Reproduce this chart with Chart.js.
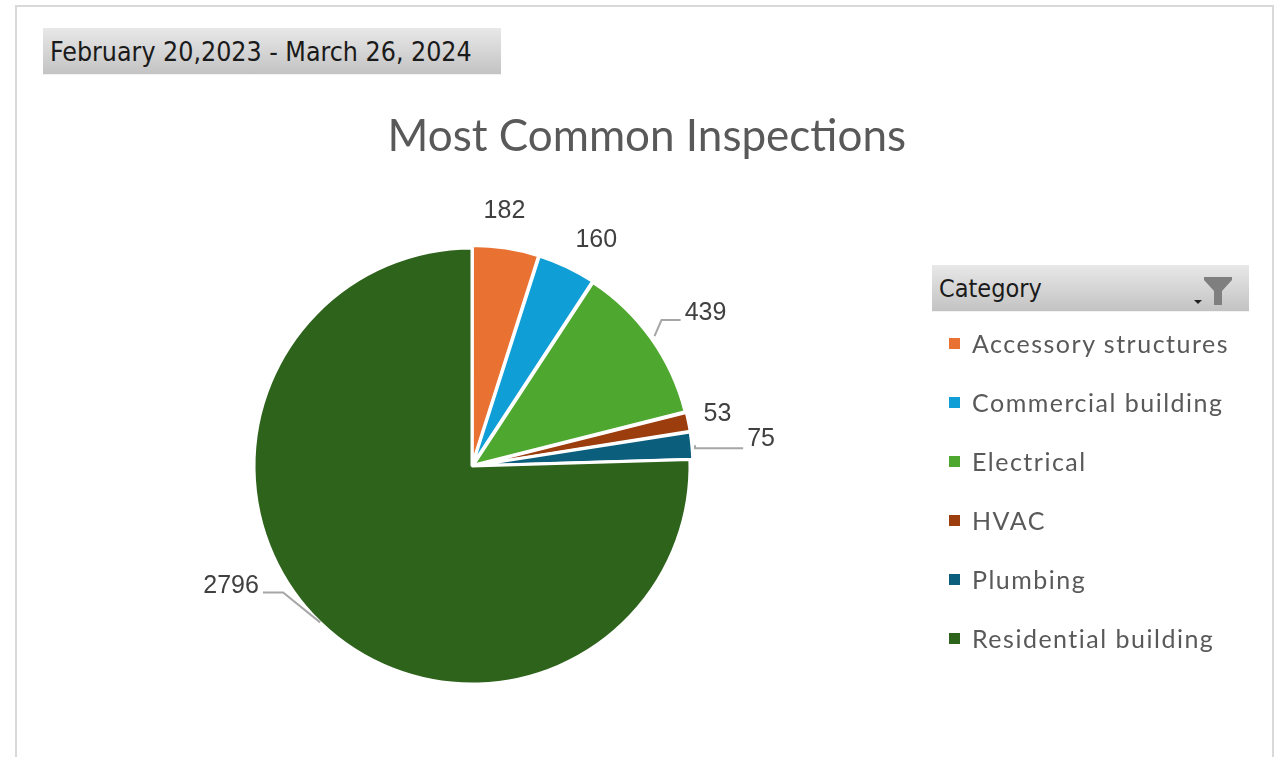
<!DOCTYPE html>
<html>
<head>
<meta charset="utf-8">
<script src="https://cdn.jsdelivr.net/npm/chart.js@4"></script>
<style>
    body { margin: 0; background: #fff; }
    #wrap { position: relative; width: 1284px; height: 757px; overflow: hidden; }
    #frame {
        position: absolute; left: 15px; top: 5px; width: 1259px; height: 800px;
        border: 2px solid #d9d9d9; box-sizing: border-box;
    }
    .grayBox {
        position: absolute; box-sizing: border-box;
        background: linear-gradient(#e8e8e8, #c3c3c3);
        border-bottom: 1px solid #f2f2f2;
        color: #1a1a1a;
        font-family: "DejaVu Sans Condensed", "DejaVu Sans", sans-serif;
    }
    #dateBox { left: 43px; top: 28px; width: 458px; height: 47px; font-size: 26.5px; line-height: 47px; padding-left: 7px; }
    #slicerHead { left: 932px; top: 265px; width: 317px; height: 47px; font-size: 25px; line-height: 47px; padding-left: 7px; }
    #slicerHead svg { position: absolute; left: 262px; top: 10px; }
    #chartCanvas { position: absolute; left: 0; top: 0; }
    #legend { position: absolute; left: 949px; top: 0; }
    .legend-item {
        position: absolute; left: 0; white-space: nowrap;
        font-family: Lato, sans-serif; font-size: 25px; color: #595959;
        letter-spacing: 1.5px;
        height: 30px; line-height: 30px;
    }
    .legend-color { position: absolute; left: 0; top: 10px; width: 11px; height: 11px; }
    .legend-text { position: absolute; left: 23px; top: 0; }
</style>
</head>
<body>
<div id="wrap">
    <div id="frame"></div>
    <div id="dateBox" class="grayBox">February 20,2023 - March 26, 2024</div>
    <canvas id="chartCanvas" width="1284" height="757"></canvas>
    <div id="slicerHead" class="grayBox">Category
        <svg width="40" height="32" viewBox="0 0 40 32">
            <path d="M0 25 L8 25 L4 29 Z" fill="#222"/>
            <path d="M10 2 L38 2 L38 5 L28 16 L28 30 L20 30 L20 16 L10 5 Z" fill="#7f7f7f"/>
        </svg>
    </div>
    <div id="legend"></div>
</div>
<script>
const categories = ['Accessory structures', 'Commercial building', 'Electrical', 'HVAC', 'Plumbing', 'Residential building'];
const inspections = [182, 160, 439, 53, 75, 2796];
const sliceColors = ['#e97132', '#0f9ed5', '#4ea72e', '#9c3d0e', '#0c5e7d', '#2e631c'];

// exploded slices + where the value labels sit relative to the slice edge
const sliceOffsets = [6, 6, 6, 6, 6, 0];
const labelShift = [[-2, -35], [28, -25], [51, -24], [26, -8], [66, -7], [-89, -37]];
const leaderElbow = [null, null, [7, -16], null, [0, 3], [-37, -30]];

const valueLabels = {
    id: 'valueLabels',
    afterDraw(chart) {
        const ctx = chart.ctx;
        const arcs = chart.getDatasetMeta(0).data;
        ctx.save();
        ctx.font = '25px "Liberation Sans", Arial, sans-serif';
        ctx.textAlign = 'center';
        ctx.textBaseline = 'middle';
        arcs.forEach((arc, i) => {
            const mid = (arc.startAngle + arc.endAngle) / 2;
            const r = arc.outerRadius + (arc.options.offset || 0);
            const ex = arc.x + Math.cos(mid) * r;
            const ey = arc.y + Math.sin(mid) * r;
            const lx = ex + labelShift[i][0];
            const ly = ey + labelShift[i][1];
            const text = String(inspections[i]);
            const w = ctx.measureText(text).width;
            if (leaderElbow[i]) {
                const bx = ex + leaderElbow[i][0];
                const by = ey + leaderElbow[i][1];
                const endX = lx > bx ? lx - w / 2 - 4 : lx + w / 2 + 4;
                ctx.strokeStyle = '#a6a6a6';
                ctx.lineWidth = 2;
                ctx.beginPath();
                ctx.moveTo(ex, ey);
                ctx.lineTo(bx, by);
                ctx.lineTo(endX, by);
                ctx.stroke();
            }
            ctx.fillStyle = '#404040';
            ctx.fillText(text, lx, ly + 1);
        });
        ctx.restore();
    }
};

const ctx = document.getElementById('chartCanvas').getContext('2d');
const pieChart = new Chart(ctx, {
    type: 'pie',
    data: {
        labels: categories,
        datasets: [{
            data: inspections,
            backgroundColor: sliceColors,
            borderColor: '#ffffff',
            borderWidth: 3,
            offset: sliceOffsets
        }]
    },
    options: {
        responsive: false,
        animation: false,
        layout: {
            padding: { top: 80, left: 38, right: 378, bottom: 68.5 }
        },
        plugins: {
            title: {
                display: true,
                text: 'Most Common Inspections',
                align: 'end',
                color: '#595959',
                font: { family: 'Lato', size: 44, weight: 'normal' },
                padding: { top: 30, bottom: 80.7 }
            },
            legend: {
                display: false // slicer list drawn below instead
            },
            tooltip: { enabled: false }
        }
    },
    plugins: [valueLabels]
});

function generateLegend(labels, colors) {
    const legendContainer = document.getElementById('legend');
    legendContainer.innerHTML = '';
    labels.forEach((label, index) => {
        const legendItem = document.createElement('div');
        legendItem.className = 'legend-item';
        legendItem.style.top = (328 + index * 59) + 'px';

        const legendColor = document.createElement('span');
        legendColor.className = 'legend-color';
        legendColor.style.backgroundColor = colors[index];

        const legendText = document.createElement('span');
        legendText.className = 'legend-text';
        legendText.textContent = label;

        legendItem.appendChild(legendColor);
        legendItem.appendChild(legendText);
        legendContainer.appendChild(legendItem);
    });
}

generateLegend(categories, sliceColors);
</script>
</body>
</html>
